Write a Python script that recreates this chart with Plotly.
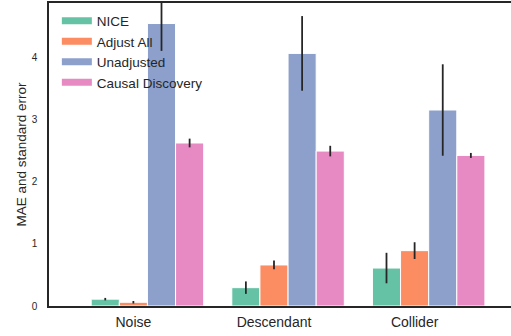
import plotly.graph_objects as go

categories = ["Noise", "Descendant", "Collider"]
methods = ["NICE", "Adjust All", "Unadjusted", "Causal Discovery"]
nice = [0.11, 0.295, 0.61]
nice_err = [0.02, 0.10, 0.245]
adjust_all = [0.06, 0.66, 0.89]
adjust_all_err = [0.02, 0.07, 0.135]
unadjusted = [4.54, 4.06, 3.15]
unadjusted_err = [0.44, 0.60, 0.735]
causal_discovery = [2.62, 2.49, 2.42]
causal_discovery_err = [0.07, 0.085, 0.04]

colors = ["#66c2a5", "#fc8d62", "#8da0cb", "#e78ac3"]
offsets = [-0.3, -0.1, 0.1, 0.3]
series = [(nice, nice_err), (adjust_all, adjust_all_err),
          (unadjusted, unadjusted_err), (causal_discovery, causal_discovery_err)]

TXT = "#262626"
SPINE = "#262626"
FONT = "Liberation Sans, Arial, sans-serif"

fig = go.Figure()
for name, (vals, errs), col, off in zip(methods, series, colors, offsets):
    fig.add_trace(go.Bar(
        x=categories, y=vals, name=name, width=0.2, offset=off,
        marker=dict(color=col, line=dict(color="white", width=1)),
        error_y=dict(type="data", array=errs, visible=True, color="#262626",
                     thickness=1.8, width=0),
        showlegend=False,
    ))
# legend entries drawn as wide patches
for name, col in zip(methods, colors):
    fig.add_trace(go.Scatter(x=[None], y=[None], mode="lines", name=name,
                             line=dict(color=col, width=7)))

# paper a little wider than the window so the right spine falls outside (as in the cropped original)
fig.update_layout(
    width=525, height=336,
    margin=dict(l=49, r=0, t=3, b=30, autoexpand=False),
    barmode="overlay",
    plot_bgcolor="white", paper_bgcolor="white",
    font=dict(family=FONT, color=TXT, size=14),
    legend=dict(x=0.0165, y=0.992, xanchor="left", yanchor="top",
                bgcolor="rgba(0,0,0,0)", font=dict(size=13.5, color=TXT),
                itemwidth=30),
    showlegend=True,
)
fig.update_xaxes(
    type="category", range=[-0.6, 2.785], automargin=False,
    showline=True, linecolor=SPINE, linewidth=1.5, mirror=True,
    showgrid=False, ticks="", tickfont=dict(size=14, color=TXT),
    ticklabelstandoff=2, zeroline=False,
)
fig.update_yaxes(
    range=[0, 4.87], automargin=False,
    showline=True, linecolor=SPINE, linewidth=1.5,
    showgrid=False, zeroline=False, ticks="",
    tickvals=[0, 1, 2, 3, 4], tickfont=dict(size=10, color=TXT),
    ticklabelstandoff=8,
    title=dict(text="MAE and standard error", font=dict(size=13.5, color=TXT),
               standoff=2),
)

fig.write_html("out.html", config={"displayModeBar": False},
               post_script="document.body.style.margin='0';document.body.style.overflow='hidden';")
